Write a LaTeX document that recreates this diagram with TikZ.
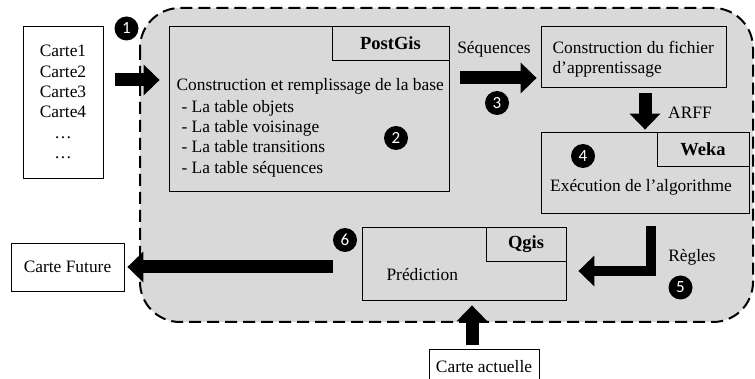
\documentclass[tikz,border=0pt]{standalone}
\usepackage{fontspec}
\setmainfont{Liberation Serif}
\newfontfamily\numfont{Carlito}
\usetikzlibrary{arrows.meta}

\begin{document}
\begin{tikzpicture}[x=1pt,y=-1pt,
  font=\fontsize{17.4}{20.4}\selectfont,
  cadre/.style={draw, line width=0.8pt, inner sep=0pt},
  onglet/.style={cadre, font=\fontsize{18.5}{20}\selectfont\bfseries},
  fleche/.style={line width=13pt, -{Triangle[length=16pt,width=30pt]}},
  num/.style={circle, fill=black, text=white, inner sep=0pt, minimum size=24pt, font=\numfont\fontsize{17}{17}\selectfont}]

\useasboundingbox (0,0) rectangle (755,379);

% zone grise
\draw[line width=2pt, dash pattern=on 12pt off 6pt, fill=gray!30, rounded corners=40pt] (140,8) rectangle (753,322);

% entrees et sorties
\node[cadre, minimum width=80, minimum height=152, align=center] (cartes) at (63,102) {Carte1\\Carte2\\Carte3\\Carte4\\…\\…};
\node[cadre, minimum width=113, minimum height=48] (future) at (67.5,267) {Carte Future};
\node[cadre, minimum width=110, minimum height=40] (actuelle) at (484,369) {};
\node at (484,367) {Carte actuelle};

% PostGis
\node[cadre, minimum width=280, minimum height=165] (postgis) at (309,108.5) {};
\node[onglet, minimum width=117, minimum height=34, anchor=north east] (tabpg) at (postgis.north east) {PostGis};
\node[anchor=west] (base) at (173,86) {Construction et remplissage de la base};
\node[anchor=west, align=left] (tables) at (178,138.5) {- La table objets\\- La table voisinage\\- La table transitions\\- La table séquences};

% fichier d'apprentissage
\node[cadre, minimum width=185, minimum height=61] (fichier) at (633.5,56.5) {};
\node[anchor=west, align=left] (fichtxt) at (549,59) {Construction du fichier\\d’apprentissage};

% Weka
\node[cadre, minimum width=208, minimum height=81] (weka) at (645,172.5) {};
\node[onglet, minimum width=92, minimum height=34, anchor=north east] (tabwk) at (weka.north east) {Weka};
\node (algo) at (641,187) {Exécution de l’algorithme};

% Qgis
\node[cadre, minimum width=204, minimum height=73] (pred) at (464,263.5) {};
\node[onglet, minimum width=80, minimum height=34, anchor=north east] (tabqg) at (pred.north east) {Qgis};
\node[anchor=west] (predtxt) at (383,275) {Prédiction};

% etiquettes
\node (seq) at (494,49) {Séquences};
\node (arff) at (690,113) {ARFF};
\node (regles) at (692,257) {Règles};

% fleches
\coordinate (e1) at (115,80);
\coordinate (e3) at (0,78);
\coordinate (coude) at (651,271);
\coordinate (ca) at (472,0);
\draw[fleche, shorten >=9pt] (e1) -- (postgis.west |- e1);
\draw[fleche, shorten <=11pt, shorten >=4pt] (postgis.east |- e3) -- (fichier.west |- e3);
\draw[fleche, shorten <=6pt, shorten >=2pt] (fichier.south -| weka.north) -- (weka.north);
\draw[fleche, line width=10pt, shorten <=13pt, shorten >=12pt] (weka.south -| coude) -- (coude) -- (pred.east |- coude);
\draw[fleche, shorten <=29pt, shorten >=3pt] (pred.west |- future.east) -- (future.east);
\draw[fleche, shorten <=4pt, shorten >=5pt] (actuelle.north -| ca) -- (pred.south -| ca);

% numeros
\node[num] (n1) at (126.5,28.5) {1};
\node[num] (n2) at (396,138) {2};
\node[num] (n3) at (497,103) {3};
\node[num] (n4) at (583,156) {4};
\node[num] (n5) at (680.5,287.5) {5};
\node[num] (n6) at (345,240) {6};
\end{tikzpicture}
\end{document}
